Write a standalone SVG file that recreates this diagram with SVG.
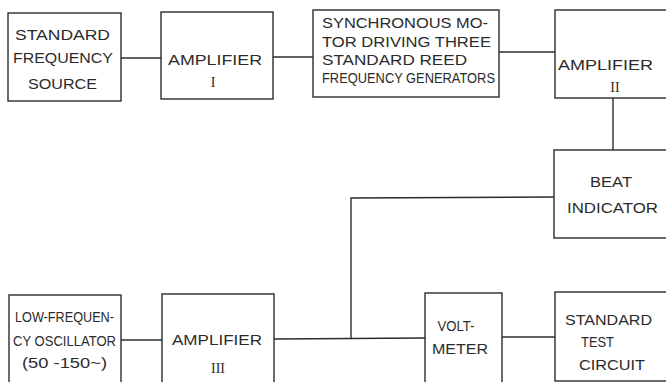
<svg xmlns="http://www.w3.org/2000/svg" width="666" height="382" viewBox="0 0 666 382">
<style>
.box{fill:#fff;stroke:#2b2b2b;stroke-width:1.4}
.t{font-family:"Liberation Sans",Arial,sans-serif;font-size:14px;fill:#2b2b2b}
.r{font-family:"Liberation Serif","Times New Roman",serif;font-size:14px;fill:#2b2b2b;text-anchor:middle}
.c{text-anchor:middle}
.w{fill:none;stroke:#2b2b2b;stroke-width:1.4}
</style>
<rect width="666" height="382" fill="#fff"/>
<g id="connectors">
<line class="w" x1="121" y1="58" x2="161" y2="58"/>
<line class="w" x1="273" y1="57" x2="313" y2="57"/>
<line class="w" x1="499" y1="52" x2="555" y2="52"/>
<line class="w" x1="613" y1="98" x2="613" y2="150"/>
<polyline class="w" points="554,197 351,198 351,338"/>
<line class="w" x1="121" y1="340" x2="162" y2="340"/>
<line class="w" x1="274" y1="339" x2="425" y2="338"/>
<line class="w" x1="502" y1="337" x2="555" y2="337"/>
</g>
<g id="standard-frequency-source">
<rect class="box" x="8" y="13" width="113" height="88"/>
<text class="t" x="62.5" y="40" text-anchor="middle" textLength="95" lengthAdjust="spacingAndGlyphs">STANDARD</text>
<text class="t" x="63" y="63" text-anchor="middle" textLength="100" lengthAdjust="spacingAndGlyphs">FREQUENCY</text>
<text class="t" x="62.5" y="89" text-anchor="middle" textLength="69" lengthAdjust="spacingAndGlyphs">SOURCE</text>
</g>
<g id="amplifier-1">
<rect class="box" x="161" y="12" width="112" height="87"/>
<text class="t" x="215" y="65" text-anchor="middle" textLength="94" lengthAdjust="spacingAndGlyphs">AMPLIFIER</text>
<text class="r" x="213" y="87">I</text>
</g>
<g id="synchronous-motor">
<rect class="box" x="313" y="10" width="186" height="87"/>
<text class="t" x="322" y="28" textLength="166" lengthAdjust="spacingAndGlyphs">SYNCHRONOUS MO-</text>
<text class="t" x="322" y="47" textLength="169" lengthAdjust="spacingAndGlyphs">TOR DRIVING THREE</text>
<text class="t" x="322" y="65" textLength="145" lengthAdjust="spacingAndGlyphs">STANDARD REED</text>
<text class="t" x="322" y="83" font-size="13" textLength="173" lengthAdjust="spacingAndGlyphs">FREQUENCY GENERATORS</text>
</g>
<g id="amplifier-2">
<rect class="box" x="555" y="10" width="112" height="88"/>
<text class="t" x="605.5" y="70" text-anchor="middle" textLength="95" lengthAdjust="spacingAndGlyphs">AMPLIFIER</text>
<text class="r" x="615" y="92">II</text>
</g>
<g id="beat-indicator">
<rect class="box" x="554" y="150" width="113" height="88"/>
<text class="t" x="611" y="187" text-anchor="middle" textLength="42" lengthAdjust="spacingAndGlyphs">BEAT</text>
<text class="t" x="612.5" y="213" text-anchor="middle" textLength="91" lengthAdjust="spacingAndGlyphs">INDICATOR</text>
</g>
<g id="low-frequency-oscillator">
<rect class="box" x="9" y="295" width="112" height="90"/>
<text class="t" x="64.5" y="322" text-anchor="middle" textLength="99" lengthAdjust="spacingAndGlyphs">LOW-FREQUEN-</text>
<text class="t" x="64.5" y="346" text-anchor="middle" textLength="103" lengthAdjust="spacingAndGlyphs">CY OSCILLATOR</text>
<text class="t" x="64.5" y="368" text-anchor="middle" textLength="85" lengthAdjust="spacingAndGlyphs">(50 -150~)</text>
</g>
<g id="amplifier-3">
<rect class="box" x="162" y="294" width="112" height="91"/>
<text class="t" x="217" y="345" text-anchor="middle" textLength="90" lengthAdjust="spacingAndGlyphs">AMPLIFIER</text>
<text class="r" x="218" y="373">III</text>
</g>
<g id="voltmeter">
<rect class="box" x="425" y="293" width="77" height="92"/>
<text class="t" x="456" y="331" text-anchor="middle" textLength="37" lengthAdjust="spacingAndGlyphs">VOLT-</text>
<text class="t" x="460" y="354" text-anchor="middle" textLength="56" lengthAdjust="spacingAndGlyphs">METER</text>
</g>
<g id="standard-test-circuit">
<rect class="box" x="555" y="292" width="112" height="89"/>
<text class="t" x="608.5" y="325" text-anchor="middle" textLength="87" lengthAdjust="spacingAndGlyphs">STANDARD</text>
<text class="t" x="597.5" y="347" text-anchor="middle" textLength="33" lengthAdjust="spacingAndGlyphs">TEST</text>
<text class="t" x="612" y="370" text-anchor="middle" textLength="66" lengthAdjust="spacingAndGlyphs">CIRCUIT</text>
</g>
</svg>
